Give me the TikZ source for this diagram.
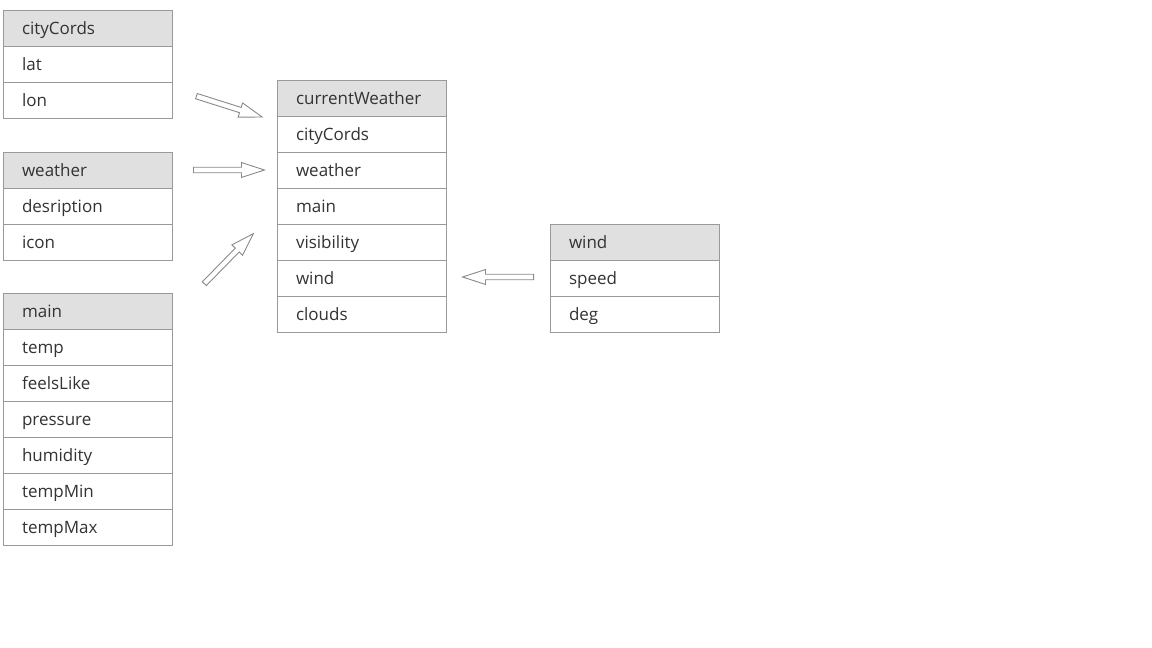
\documentclass[tikz,border=0pt]{standalone}
\usepackage{fontspec}
\setmainfont{Open Sans}
\usetikzlibrary{shapes.arrows}
\definecolor{bordergray}{HTML}{999999}
\definecolor{headgray}{HTML}{E0E0E0}
\definecolor{txtgray}{HTML}{333333}
\definecolor{arrowgray}{HTML}{8A8A8A}
\begin{document}
\begin{tikzpicture}[x=1pt,y=-1pt,
  rowbox/.style={draw=bordergray, line width=1pt, fill=white, anchor=north west,
    minimum height=36pt, inner xsep=18.5pt, inner ysep=0pt, text width=132pt, align=left,
    text height=15pt, text depth=3pt, text=txtgray, font=\fontsize{17}{20}\selectfont},
  hdrbox/.style={rowbox, fill=headgray},
  blockarrow/.style={single arrow, draw=arrowgray, fill=white, line width=0.9pt,
    inner sep=2.3pt, minimum height=70pt, single arrow head extend=4.7pt,
    single arrow tip angle=36, text width=0pt, anchor=tail}
]
\useasboundingbox[fill=white] (0,0) rectangle (1152,648);

% cityCords
\node[hdrbox] (cc0) at (3,10) {cityCords};
\node[rowbox] (cc1) at (3,46) {lat};
\node[rowbox] (cc2) at (3,82) {lon};

% weather
\node[hdrbox] (we0) at (3,152) {weather};
\node[rowbox] (we1) at (3,188) {desription};
\node[rowbox] (we2) at (3,224) {icon};

% main
\node[hdrbox] (ma0) at (3,293) {main};
\node[rowbox] (ma1) at (3,329) {temp};
\node[rowbox] (ma2) at (3,365) {feelsLike};
\node[rowbox] (ma3) at (3,401) {pressure};
\node[rowbox] (ma4) at (3,437) {humidity};
\node[rowbox] (ma5) at (3,473) {tempMin};
\node[rowbox] (ma6) at (3,509) {tempMax};

% currentWeather
\node[hdrbox] (cw0) at (277,80) {currentWeather};
\node[rowbox] (cw1) at (277,116) {cityCords};
\node[rowbox] (cw2) at (277,152) {weather};
\node[rowbox] (cw3) at (277,188) {main};
\node[rowbox] (cw4) at (277,224) {visibility};
\node[rowbox] (cw5) at (277,260) {wind};
\node[rowbox] (cw6) at (277,296) {clouds};

% wind
\node[hdrbox] (wi0) at (550,224) {wind};
\node[rowbox] (wi1) at (550,260) {speed};
\node[rowbox] (wi2) at (550,296) {deg};

% block arrows
\node[blockarrow, rotate=-17.6, minimum height=69pt] (a1) at (196,96) {};
\node[blockarrow, minimum height=71pt] (a2) at (193,170) {};
\node[blockarrow, rotate=45.6] (a3) at (204,284) {};
\node[blockarrow, rotate=180, minimum height=71pt] (a4) at (534,277) {};
\end{tikzpicture}
\end{document}
